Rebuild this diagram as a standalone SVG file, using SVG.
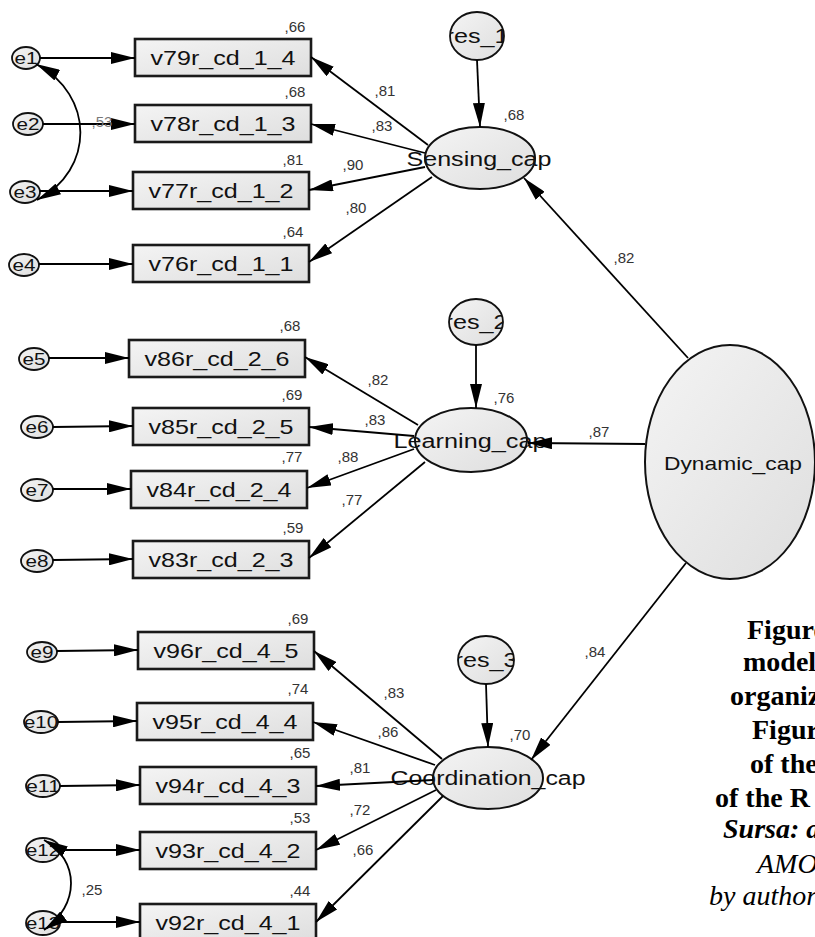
<svg xmlns="http://www.w3.org/2000/svg" width="815" height="937" viewBox="0 0 815 937">
<defs>
<linearGradient id="g" x1="0" y1="0" x2="1" y2="1">
<stop offset="0" stop-color="#f4f4f4"/><stop offset="1" stop-color="#dedede"/>
</linearGradient>
<marker id="ah" viewBox="0 0 24 12" refX="24" refY="6" markerWidth="24" markerHeight="12" markerUnits="userSpaceOnUse" orient="auto-start-reverse">
<path d="M0,0 L24,6 L0,12 z" fill="#000"/>
</marker>
<clipPath id="c1"><ellipse cx="26" cy="58" rx="14" ry="11"/></clipPath>
<clipPath id="c2"><ellipse cx="28" cy="124" rx="15" ry="11"/></clipPath>
<clipPath id="c3"><ellipse cx="25" cy="192" rx="15" ry="11"/></clipPath>
<clipPath id="c4"><ellipse cx="24" cy="265" rx="15" ry="11"/></clipPath>
<clipPath id="c5"><ellipse cx="34" cy="359" rx="15" ry="11"/></clipPath>
<clipPath id="c6"><ellipse cx="37" cy="427" rx="16" ry="11"/></clipPath>
<clipPath id="c7"><ellipse cx="37" cy="490" rx="16" ry="11"/></clipPath>
<clipPath id="c8"><ellipse cx="37" cy="561" rx="16" ry="11"/></clipPath>
<clipPath id="c9"><ellipse cx="42" cy="652" rx="15" ry="10"/></clipPath>
<clipPath id="c10"><ellipse cx="41" cy="722" rx="17" ry="11"/></clipPath>
<clipPath id="c11"><ellipse cx="43" cy="786" rx="17" ry="11"/></clipPath>
<clipPath id="c12"><ellipse cx="43" cy="850" rx="17" ry="12"/></clipPath>
<clipPath id="c13"><ellipse cx="43" cy="923" rx="17" ry="12"/></clipPath>
<clipPath id="r1"><ellipse cx="477" cy="36" rx="27" ry="24"/></clipPath>
<clipPath id="r2"><ellipse cx="476" cy="322" rx="27" ry="23"/></clipPath>
<clipPath id="r3"><ellipse cx="486" cy="660" rx="28" ry="24"/></clipPath>
</defs>
<style>
.box{fill:url(#g);stroke:#1a1a1a;stroke-width:2.6}
.lat{fill:url(#g);stroke:#111;stroke-width:2}
.err{fill:url(#g);stroke:#111;stroke-width:1.8}
.t{font-family:"Liberation Sans",Arial,sans-serif;fill:#111;text-anchor:middle}
.bl{font-size:21px}
.el{font-size:17px}
.ll{font-size:20px}
.num{font-family:"Liberation Sans",Arial,sans-serif;font-size:15px;fill:#333;text-anchor:middle}
.cap{font-family:"Liberation Serif","Times New Roman",serif;font-size:28px;fill:#000}
.edge{stroke:#000;stroke-width:1.8;fill:none;marker-end:url(#ah)}
.cov{stroke:#000;stroke-width:1.8;fill:none;marker-start:url(#ah);marker-end:url(#ah)}
</style>

<g id="nodes">
<g id="v79"><rect class="box" x="135" y="39" width="176" height="37"/><text class="t bl" x="223" y="65" textLength="145" lengthAdjust="spacingAndGlyphs">v79r_cd_1_4</text></g>
<g id="v78"><rect class="box" x="135" y="105" width="176" height="37"/><text class="t bl" x="223" y="131" textLength="145" lengthAdjust="spacingAndGlyphs">v78r_cd_1_3</text></g>
<g id="v77"><rect class="box" x="133" y="172" width="176" height="37"/><text class="t bl" x="221" y="198" textLength="145" lengthAdjust="spacingAndGlyphs">v77r_cd_1_2</text></g>
<g id="v76"><rect class="box" x="133" y="245" width="176" height="37"/><text class="t bl" x="221" y="271" textLength="145" lengthAdjust="spacingAndGlyphs">v76r_cd_1_1</text></g>
<g id="v86"><rect class="box" x="129" y="340" width="176" height="37"/><text class="t bl" x="217" y="366" textLength="145" lengthAdjust="spacingAndGlyphs">v86r_cd_2_6</text></g>
<g id="v85"><rect class="box" x="133" y="408" width="176" height="37"/><text class="t bl" x="221" y="434" textLength="145" lengthAdjust="spacingAndGlyphs">v85r_cd_2_5</text></g>
<g id="v84"><rect class="box" x="131" y="471" width="176" height="37"/><text class="t bl" x="219" y="497" textLength="145" lengthAdjust="spacingAndGlyphs">v84r_cd_2_4</text></g>
<g id="v83"><rect class="box" x="133" y="541" width="176" height="37"/><text class="t bl" x="221" y="567" textLength="145" lengthAdjust="spacingAndGlyphs">v83r_cd_2_3</text></g>
<g id="v96"><rect class="box" x="138" y="632" width="176" height="37"/><text class="t bl" x="226" y="658" textLength="145" lengthAdjust="spacingAndGlyphs">v96r_cd_4_5</text></g>
<g id="v95"><rect class="box" x="137" y="703" width="176" height="37"/><text class="t bl" x="225" y="729" textLength="145" lengthAdjust="spacingAndGlyphs">v95r_cd_4_4</text></g>
<g id="v94"><rect class="box" x="140" y="767" width="176" height="37"/><text class="t bl" x="228" y="793" textLength="145" lengthAdjust="spacingAndGlyphs">v94r_cd_4_3</text></g>
<g id="v93"><rect class="box" x="140" y="832" width="176" height="37"/><text class="t bl" x="228" y="858" textLength="145" lengthAdjust="spacingAndGlyphs">v93r_cd_4_2</text></g>
<g id="v92"><rect class="box" x="140" y="904" width="176" height="37"/><text class="t bl" x="228" y="930" textLength="145" lengthAdjust="spacingAndGlyphs">v92r_cd_4_1</text></g>

<g id="e1"><ellipse class="err" cx="26" cy="58" rx="14" ry="11"/><text class="t el" x="26" y="64" textLength="23" lengthAdjust="spacingAndGlyphs" clip-path="url(#c1)">e1</text></g>
<g id="e2"><ellipse class="err" cx="28" cy="124" rx="15" ry="11"/><text class="t el" x="28" y="130" textLength="23" lengthAdjust="spacingAndGlyphs" clip-path="url(#c2)">e2</text></g>
<g id="e3"><ellipse class="err" cx="25" cy="192" rx="15" ry="11"/><text class="t el" x="25" y="198" textLength="23" lengthAdjust="spacingAndGlyphs" clip-path="url(#c3)">e3</text></g>
<g id="e4"><ellipse class="err" cx="24" cy="265" rx="15" ry="11"/><text class="t el" x="24" y="271" textLength="23" lengthAdjust="spacingAndGlyphs" clip-path="url(#c4)">e4</text></g>
<g id="e5"><ellipse class="err" cx="34" cy="359" rx="15" ry="11"/><text class="t el" x="34" y="365" textLength="23" lengthAdjust="spacingAndGlyphs" clip-path="url(#c5)">e5</text></g>
<g id="e6"><ellipse class="err" cx="37" cy="427" rx="16" ry="11"/><text class="t el" x="37" y="433" textLength="23" lengthAdjust="spacingAndGlyphs" clip-path="url(#c6)">e6</text></g>
<g id="e7"><ellipse class="err" cx="37" cy="490" rx="16" ry="11"/><text class="t el" x="37" y="496" textLength="23" lengthAdjust="spacingAndGlyphs" clip-path="url(#c7)">e7</text></g>
<g id="e8"><ellipse class="err" cx="37" cy="561" rx="16" ry="11"/><text class="t el" x="37" y="567" textLength="23" lengthAdjust="spacingAndGlyphs" clip-path="url(#c8)">e8</text></g>
<g id="e9"><ellipse class="err" cx="42" cy="652" rx="15" ry="10"/><text class="t el" x="42" y="658" textLength="23" lengthAdjust="spacingAndGlyphs" clip-path="url(#c9)">e9</text></g>
<g id="e10"><ellipse class="err" cx="41" cy="722" rx="17" ry="11"/><text class="t el" x="41" y="728" textLength="34" lengthAdjust="spacingAndGlyphs" clip-path="url(#c10)">e10</text></g>
<g id="e11"><ellipse class="err" cx="43" cy="786" rx="17" ry="11"/><text class="t el" x="43" y="792" textLength="34" lengthAdjust="spacingAndGlyphs" clip-path="url(#c11)">e11</text></g>
<g id="e12"><ellipse class="err" cx="43" cy="850" rx="17" ry="12"/><text class="t el" x="43" y="856" textLength="34" lengthAdjust="spacingAndGlyphs" clip-path="url(#c12)">e12</text></g>
<g id="e13"><ellipse class="err" cx="43" cy="923" rx="17" ry="12"/><text class="t el" x="43" y="929" textLength="34" lengthAdjust="spacingAndGlyphs" clip-path="url(#c13)">e13</text></g>

<g id="res_1"><ellipse class="err" cx="477" cy="36" rx="27" ry="24"/><text class="t ll" x="477" y="43" textLength="63" lengthAdjust="spacingAndGlyphs" clip-path="url(#r1)">res_1</text></g>
<g id="res_2"><ellipse class="err" cx="476" cy="322" rx="27" ry="23"/><text class="t ll" x="476" y="329" textLength="63" lengthAdjust="spacingAndGlyphs" clip-path="url(#r2)">res_2</text></g>
<g id="res_3"><ellipse class="err" cx="486" cy="660" rx="28" ry="24"/><text class="t ll" x="486" y="667" textLength="63" lengthAdjust="spacingAndGlyphs" clip-path="url(#r3)">res_3</text></g>

<g id="Sensing_cap"><ellipse class="lat" cx="480" cy="158" rx="55" ry="31"/><text class="t ll" x="479" y="166" textLength="145" lengthAdjust="spacingAndGlyphs">Sensing_cap</text></g>
<g id="Learning_cap"><ellipse class="lat" cx="471" cy="440" rx="56" ry="32"/><text class="t ll" x="470" y="448" textLength="153" lengthAdjust="spacingAndGlyphs">Learning_cap</text></g>
<g id="Coordination_cap"><ellipse class="lat" cx="488" cy="778" rx="55" ry="31"/><text class="t ll" x="488" y="785" textLength="195" lengthAdjust="spacingAndGlyphs">Coordination_cap</text></g>
<g id="Dynamic_cap"><ellipse class="lat" cx="730" cy="462" rx="85" ry="117"/><text class="t" style="font-size:19px" x="733" y="470" textLength="138" lengthAdjust="spacingAndGlyphs">Dynamic_cap</text></g>
</g>

<g id="connectors">
<path class="edge" d="M40,58 L135,58"/>
<path class="edge" d="M43,124 L135,124"/>
<path class="edge" d="M40,191 L133,191"/>
<path class="edge" d="M39,264 L133,264"/>
<path class="edge" d="M49,358 L129,358"/>
<path class="edge" d="M53,427 L133,426"/>
<path class="edge" d="M53,489 L131,489"/>
<path class="edge" d="M53,560 L133,559"/>
<path class="edge" d="M57,651 L138,650"/>
<path class="edge" d="M58,722 L137,721"/>
<path class="edge" d="M60,786 L140,785"/>
<path class="edge" d="M60,850 L140,850"/>
<path class="edge" d="M60,922 L140,922"/>

<path class="edge" d="M428,145 L311,57"/>
<path class="edge" d="M425,153 L311,124"/>
<path class="edge" d="M425,167 L309,190"/>
<path class="edge" d="M432,177 L309,262"/>
<path class="edge" d="M418,425 L305,357"/>
<path class="edge" d="M414,436 L309,427"/>
<path class="edge" d="M414,449 L307,488"/>
<path class="edge" d="M425,462 L309,558"/>
<path class="edge" d="M442,759 L314,651"/>
<path class="edge" d="M435,765 L313,722"/>
<path class="edge" d="M433,780 L316,786"/>
<path class="edge" d="M436,790 L316,850"/>
<path class="edge" d="M443,796 L316,922"/>

<path class="edge" d="M477,60 L480,127"/>
<path class="edge" d="M476,345 L476,408"/>
<path class="edge" d="M486,684 L488,747"/>
<path class="edge" d="M688,358 L524,178"/>
<path class="edge" d="M645,444 L528,443"/>
<path class="edge" d="M686,563 L531,760"/>

<path class="cov" d="M36,64 C95,95 95,170 37,200"/>
<path class="cov" d="M44,840 C80,860 80,905 44,930"/>
</g>

<g id="labels">
<text class="num" x="295" y="32">,66</text>
<text class="num" x="295" y="97">,68</text>
<text class="num" x="293" y="165">,81</text>
<text class="num" x="293" y="237">,64</text>
<text class="num" x="385" y="96">,81</text>
<text class="num" x="382" y="131">,83</text>
<text class="num" x="353" y="170">,90</text>
<text class="num" x="356" y="213">,80</text>
<text class="num" x="102" y="127" style="fill:#777">,53</text>
<text class="num" x="290" y="331">,68</text>
<text class="num" x="292" y="400">,69</text>
<text class="num" x="292" y="462">,77</text>
<text class="num" x="293" y="533">,59</text>
<text class="num" x="378" y="385">,82</text>
<text class="num" x="375" y="425">,83</text>
<text class="num" x="348" y="462">,88</text>
<text class="num" x="352" y="505">,77</text>
<text class="num" x="298" y="624">,69</text>
<text class="num" x="298" y="694">,74</text>
<text class="num" x="300" y="758">,65</text>
<text class="num" x="300" y="823">,53</text>
<text class="num" x="300" y="896">,44</text>
<text class="num" x="394" y="698">,83</text>
<text class="num" x="388" y="737">,86</text>
<text class="num" x="360" y="773">,81</text>
<text class="num" x="360" y="815">,72</text>
<text class="num" x="363" y="855">,66</text>
<text class="num" x="92" y="895">,25</text>
<text class="num" x="514" y="120">,68</text>
<text class="num" x="504" y="403">,76</text>
<text class="num" x="599" y="437">,87</text>
<text class="num" x="624" y="263">,82</text>
<text class="num" x="520" y="740">,70</text>
<text class="num" x="595" y="657">,84</text>
</g>

<g id="caption">
<text class="cap" x="747" y="639" font-weight="bold">Figure</text>
<text class="cap" x="743" y="671" font-weight="bold">model</text>
<text class="cap" x="730" y="705" font-weight="bold">organiz</text>
<text class="cap" x="752" y="739" font-weight="bold">Figur</text>
<text class="cap" x="750" y="773" font-weight="bold">of the</text>
<text class="cap" x="715" y="807" font-weight="bold">of the R</text>
<text class="cap" x="723" y="838" font-weight="bold" font-style="italic">Sursa: a</text>
<text class="cap" x="757" y="873" font-style="italic">AMO</text>
<text class="cap" x="709" y="905" font-style="italic">by author</text>
</g>
</svg>
